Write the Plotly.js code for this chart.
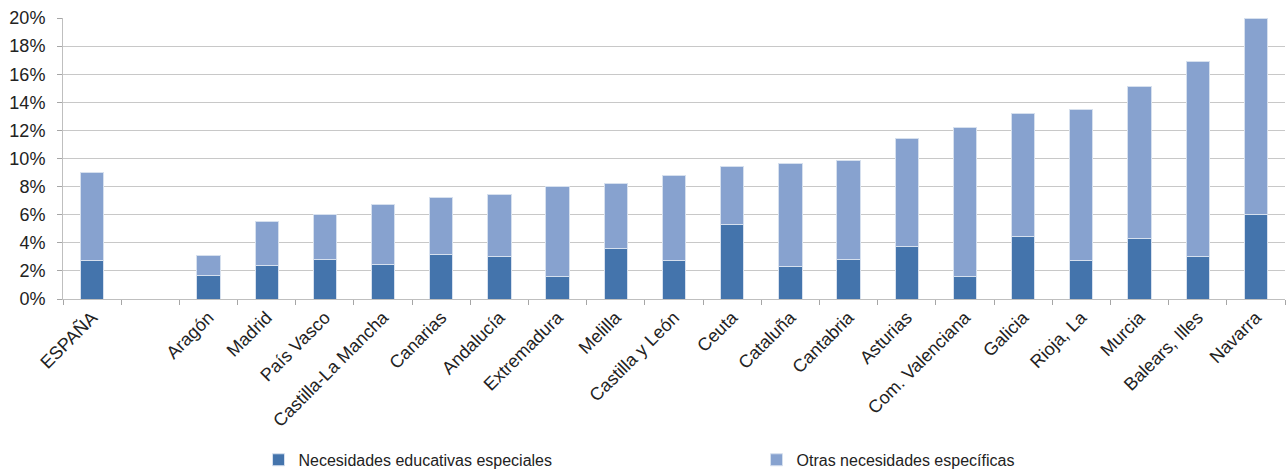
<!DOCTYPE html>
<html>
<head>
<meta charset="utf-8">
<script src="https://cdn.plot.ly/plotly-3.0.1.min.js"></script>
<style>html,body{margin:0;padding:0;background:#fff;}#chart{width:1287px;height:471px;}</style>
</head>
<body>
<div id="chart"></div>
<script>
// Categories (a blank slot separates ESPAÑA from the regions)
const categories = ["ESPAÑA", " ", "Aragón", "Madrid", "País Vasco", "Castilla-La Mancha", "Canarias",
  "Andalucía", "Extremadura", "Melilla", "Castilla y León", "Ceuta", "Cataluña", "Cantabria",
  "Asturias", "Com. Valenciana", "Galicia", "Rioja, La", "Murcia", "Balears, Illes", "Navarra"];

// Necesidades educativas especiales (%)
const necesidadesEspeciales = [2.71, null, 1.64, 2.35, 2.78, 2.43, 3.14, 3.04, 1.57, 3.59, 2.73,
  5.28, 2.28, 2.78, 3.71, 1.57, 4.42, 2.71, 4.28, 3.00, 5.99];

// Otras necesidades específicas (%)
const otrasNecesidades = [6.26, null, 1.43, 3.17, 3.26, 4.32, 4.09, 4.40, 6.42, 4.61, 6.05,
  4.18, 7.40, 7.11, 7.70, 10.63, 8.78, 10.75, 10.87, 13.91, 14.01];

const seriesNames = ["Necesidades educativas especiales", "Otras necesidades específicas"];
const yTicks = [0, 2, 4, 6, 8, 10, 12, 14, 16, 18, 20];
const yTickLabels = ["0%", "2%", "4%", "6%", "8%", "10%", "12%", "14%", "16%", "18%", "20%"];

const font = "Liberation Sans, Arial, sans-serif";

const traces = [
  {
    type: "bar", name: seriesNames[0], x: categories, y: necesidadesEspeciales,
    marker: {color: "#4474ac", line: {color: "#d6e0ee", width: 1}}, width: 0.4
  },
  {
    type: "bar", name: seriesNames[1], x: categories, y: otrasNecesidades,
    marker: {color: "#87a2cf", line: {color: "#d6e0ee", width: 1}}, width: 0.4
  }
];

const layout = {
  width: 1287, height: 471,
  margin: {l: 63, r: 2, t: 18, b: 172, autoexpand: false},
  barmode: "stack",
  paper_bgcolor: "#fff", plot_bgcolor: "#fff",
  font: {family: font, color: "#222", size: 17},
  xaxis: {
    type: "category", categoryorder: "array", categoryarray: categories,
    tickangle: -45, ticks: "outside", tickson: "boundaries", ticklen: 5,
    tickcolor: "#a6a6a6", showline: true, linecolor: "#bfbfbf", linewidth: 1,
    showgrid: false, automargin: false,
    tickfont: {size: 18, family: font, color: "#222"}
  },
  yaxis: {
    range: [0, 20], tickmode: "array", tickvals: yTicks, ticktext: yTickLabels,
    ticks: "outside", ticklen: 5, tickcolor: "#a6a6a6",
    showline: true, linecolor: "#bfbfbf", linewidth: 1,
    showgrid: true, gridcolor: "#c8c8c8", gridwidth: 1, zeroline: false,
    ticklabelstandoff: 8, automargin: false,
    tickfont: {size: 18, family: font, color: "#222"}
  },
  showlegend: true,
  legend: {
    orientation: "h", x: 0.16, xanchor: "left", y: -0.512, yanchor: "top",
    traceorder: "normal", entrywidth: 453, entrywidthmode: "pixels",
    font: {size: 16, family: font, color: "#222"}
  }
};

Plotly.newPlot("chart", traces, layout, {staticPlot: true, displayModeBar: false});
</script>
</body>
</html>
